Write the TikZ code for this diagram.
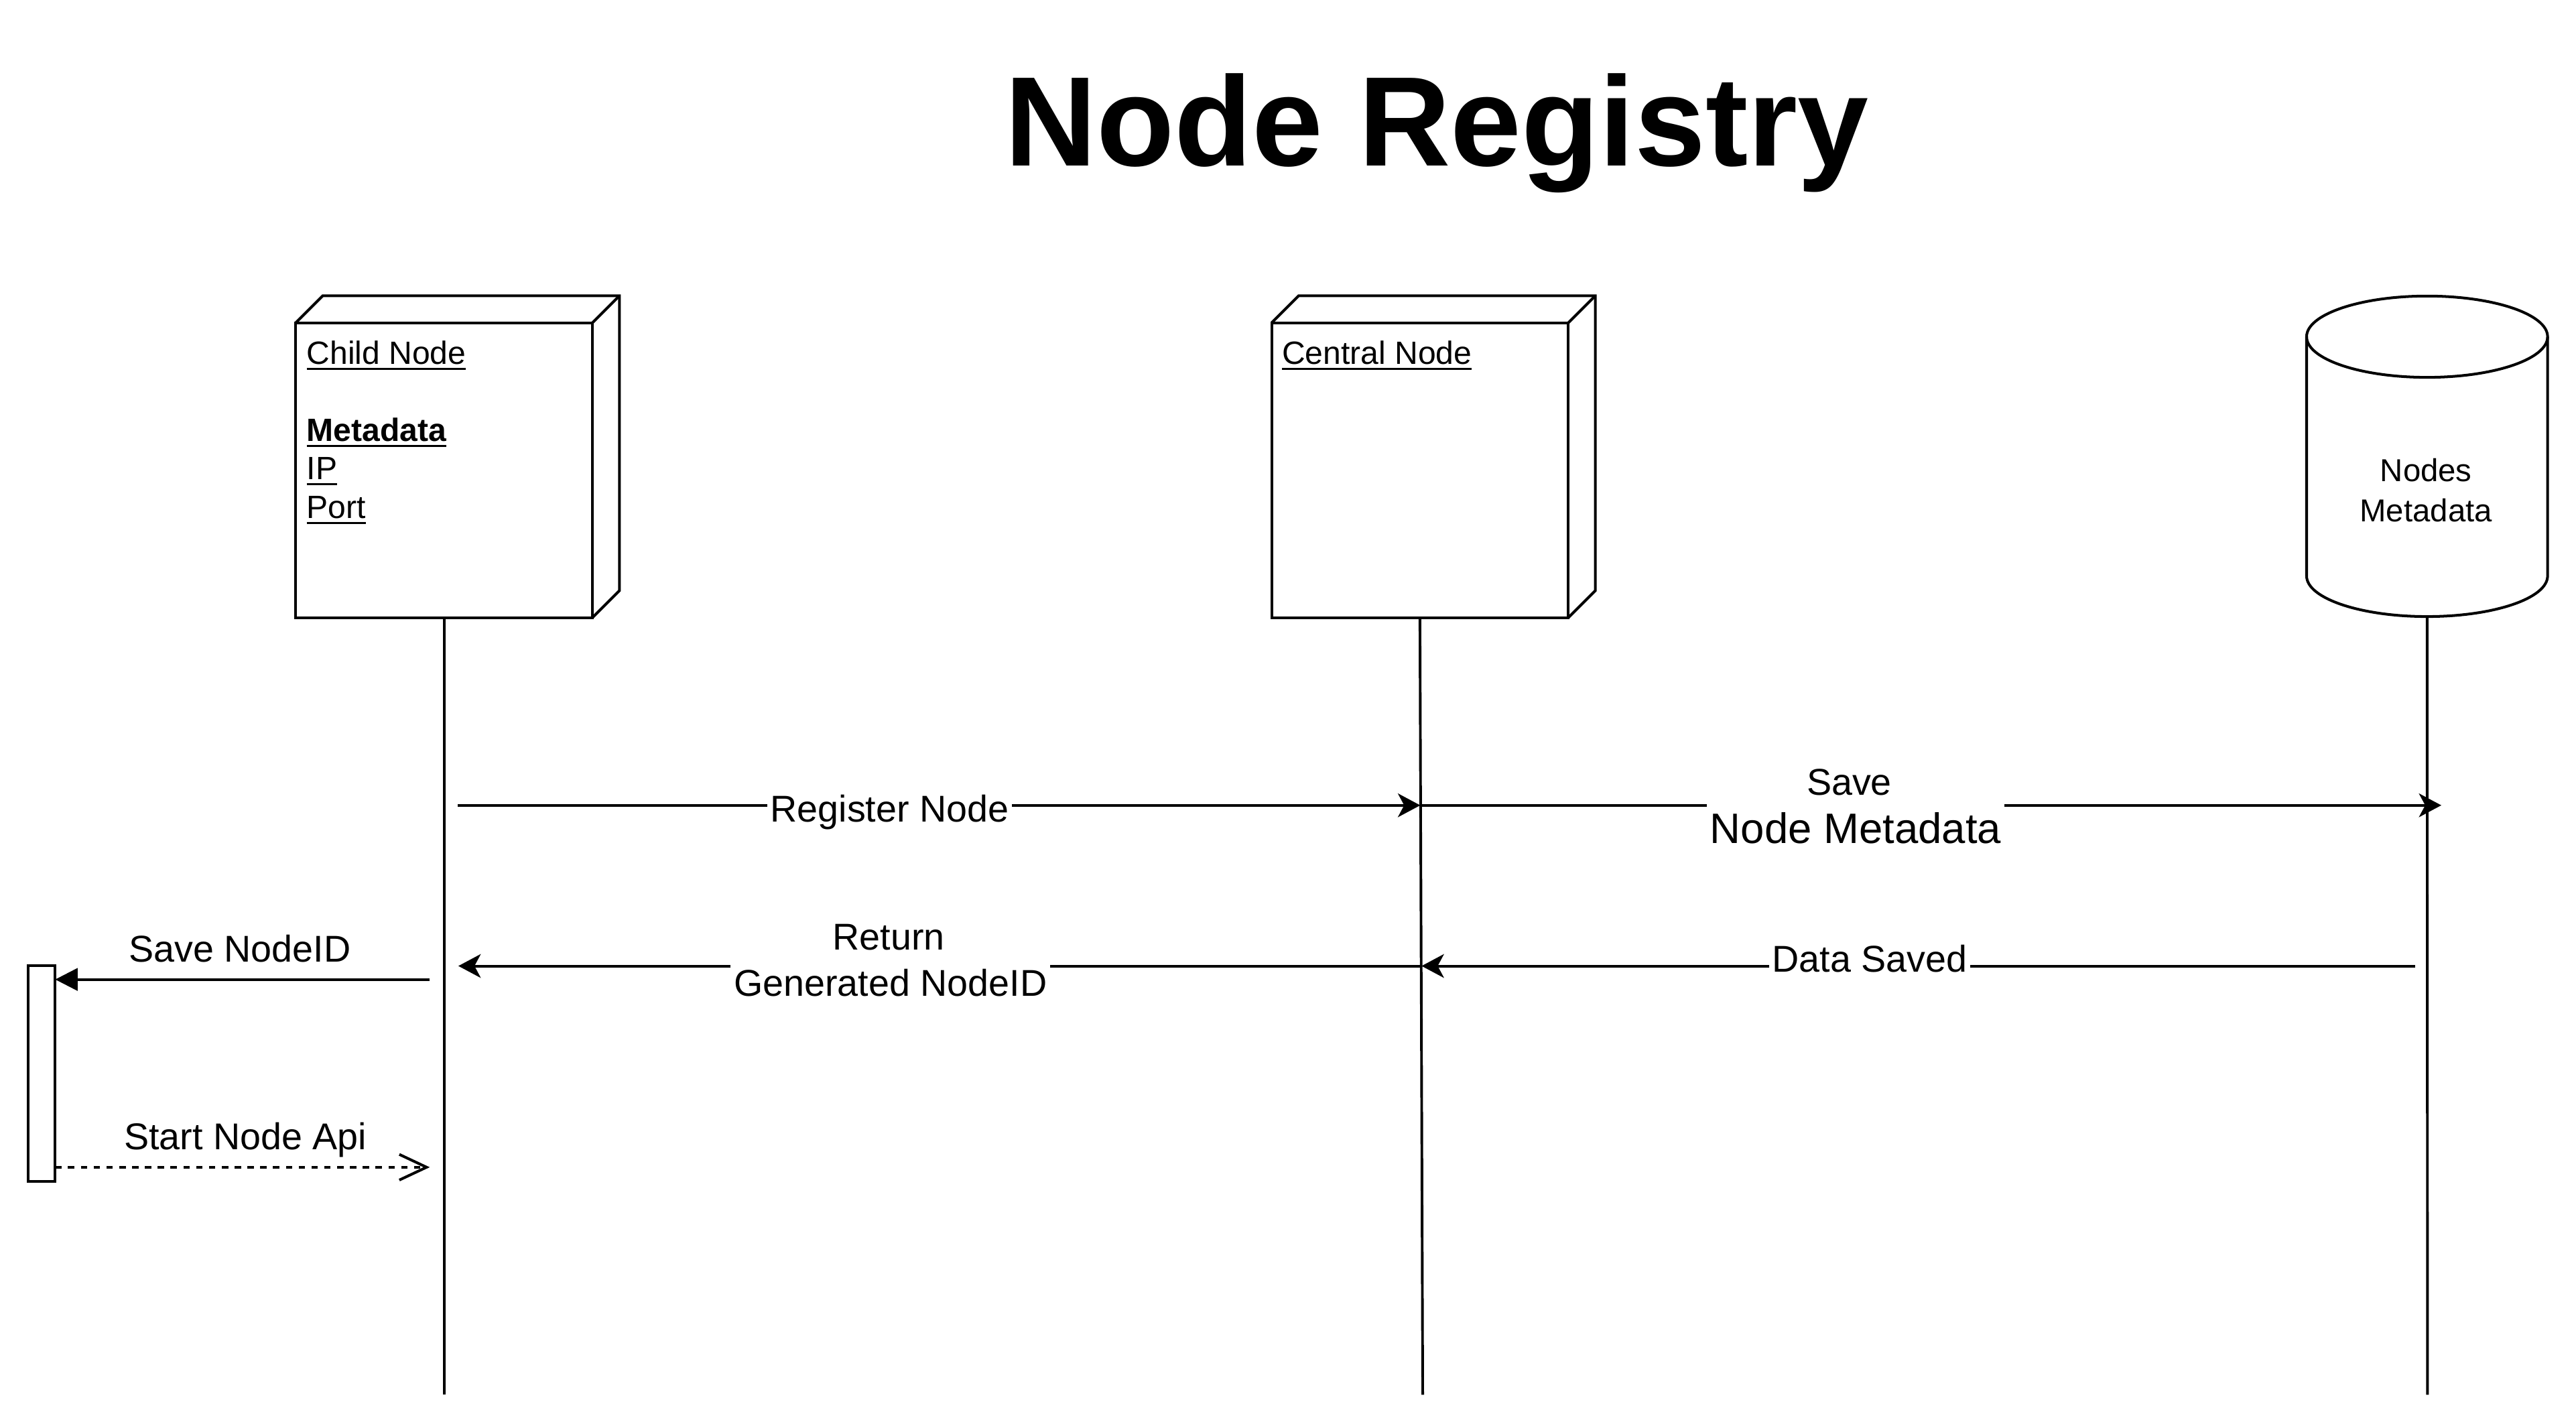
\documentclass[tikz,border=0pt]{standalone}
\usepackage{fontspec}
\setmainfont{Liberation Sans}
\usetikzlibrary{arrows.meta}
\newcommand\myul[1]{\setbox0\hbox{#1}\rlap{\rule[-1.75pt]{\wd0}{0.6pt}}\box0}
\begin{document}
\begin{tikzpicture}[x=0.5pt,y=-0.5pt,
  every node/.style={inner sep=0pt, outer sep=0pt},
  box/.style={draw, line width=0.82pt, line join=miter, minimum width=90.3pt, minimum height=89.75pt},
  side/.style={draw, line width=0.82pt, line join=miter},
  life/.style={draw, line width=0.8pt},
  msg/.style={draw, line width=0.82pt, -{Stealth[length=6.8pt,width=7.2pt,inset=1.9pt]}},
  blk/.style={draw, line width=0.82pt, -{Triangle[length=6.85pt,width=6.8pt]}},
  dsh/.style={draw, line width=0.82pt, dash pattern=on 1.95pt off 1.95pt, -{Straight Barb[length=8.3pt,width=7.8pt]}},
  boxtxt/.style={font=\fontsize{9.8pt}{11.8pt}\selectfont, anchor=base west},
  dbtxt/.style={font=\fontsize{9.65pt}{12pt}\selectfont, anchor=base},
  lbl/.style={font=\fontsize{11.35pt}{13.6pt}\selectfont, anchor=base},
  lblw/.style={lbl, fill=white, inner xsep=1pt, inner ysep=3pt},
  act/.style={draw, line width=0.82pt, minimum width=8.2pt, minimum height=65.65pt}
]
\useasboundingbox (0,0) rectangle (1568,868);

% title
\node[anchor=base, font=\fontsize{38.8pt}{44pt}\selectfont\bfseries] (title) at (874.5,101) {Node Registry};

% Child node box
\node[box] (child) at (270.3,286.25) {};
\draw[side] (child.north west) -- ++(16.5,-16.5) -| ([shift={(16.5,-16.5)}]child.south east) -- (child.south east);
\draw[side] (child.north east) -- ++(16.5,-16.5);
\node[boxtxt] (childt) at (186.7,221.5) {\myul{Child Node}};
\node[boxtxt] (childm) at (186.7,268.5) {\myul{\textbf{Metadata}}};
\node[boxtxt] (childip) at (186.7,291.8) {\myul{IP}};
\node[boxtxt] (childport) at (186.7,315.4) {\myul{Port}};

% Central node box
\node[box] (central) at (864.3,286.25) {};
\draw[side] (central.north west) -- ++(16.5,-16.5) -| ([shift={(16.5,-16.5)}]central.south east) -- (central.south east);
\draw[side] (central.north east) -- ++(16.5,-16.5);
\node[boxtxt] (centralt) at (780.4,221.5) {\myul{Central Node}};

% Database cylinder
\draw[side] (1404,204.95) -- (1404,350.55)
  .. controls (1404,364.22) and (1436.84,375.3) .. (1477.35,375.3)
  .. controls (1517.86,375.3) and (1550.7,364.22) .. (1550.7,350.55) -- (1550.7,204.95);
\draw[side] (1477.35,204.95) ellipse [x radius=36.675pt, y radius=12.375pt];
\node[dbtxt] (dbt1) at (1476.7,293) {Nodes};
\node[dbtxt] (dbt2) at (1476.7,317.5) {Metadata};
\coordinate (dbbot) at (1477.35,375.3);

% lifelines
\coordinate (childend) at (270.3,849);
\coordinate (centralend) at (866,849);
\coordinate (dbend) at (1477.6,849);
\draw[life] (child.south) -- (childend);
\draw[life] (central.south) -- (centralend);
\draw[life] (dbbot) -- (dbend);

% activation bar
\node[act] (actbar) at (25.4,653.35) {};

% message coordinates
\coordinate (reg1) at (278.7,490.2);
\coordinate (reg2) at (864.5,490.2);
\coordinate (sav2) at (1486,490.2);
\coordinate (ret1) at (864.8,588);
\coordinate (ret2) at (279,588);
\coordinate (ds1) at (1470,588);
\coordinate (ds2) at (865.3,588);
\coordinate (sn1) at (261.6,596.2);
\coordinate (st2) at (261.6,710.5);

% messages
\draw[msg] (reg1) -- (reg2);
\node[lblw] (regl) at (541.5,500.4) {Register Node};

\draw[msg] (reg2) -- (sav2);
\node[lbl] (savl1) at (1125.6,484) {Save};
\node[lblw, font=\fontsize{12.95pt}{15pt}\selectfont] (savl2) at (1129.5,513.2) {Node Metadata};

\draw[msg] (ret1) -- (ret2);
\node[lbl] (retl1) at (541,578.4) {Return};
\node[lblw] (retl2) at (542,606.4) {Generated NodeID};

\draw[msg] (ds1) -- (ds2);
\node[lblw] (dsl) at (1138,591.5) {Data Saved};

\draw[blk] (sn1) -- (sn1 -| actbar.east);
\node[lbl] (snl) at (146,585.4) {Save NodeID};

\draw[dsh] (st2 -| actbar.east) -- (st2);
\node[lbl] (stl) at (149.3,699.6) {Start Node Api};
\end{tikzpicture}
\end{document}
